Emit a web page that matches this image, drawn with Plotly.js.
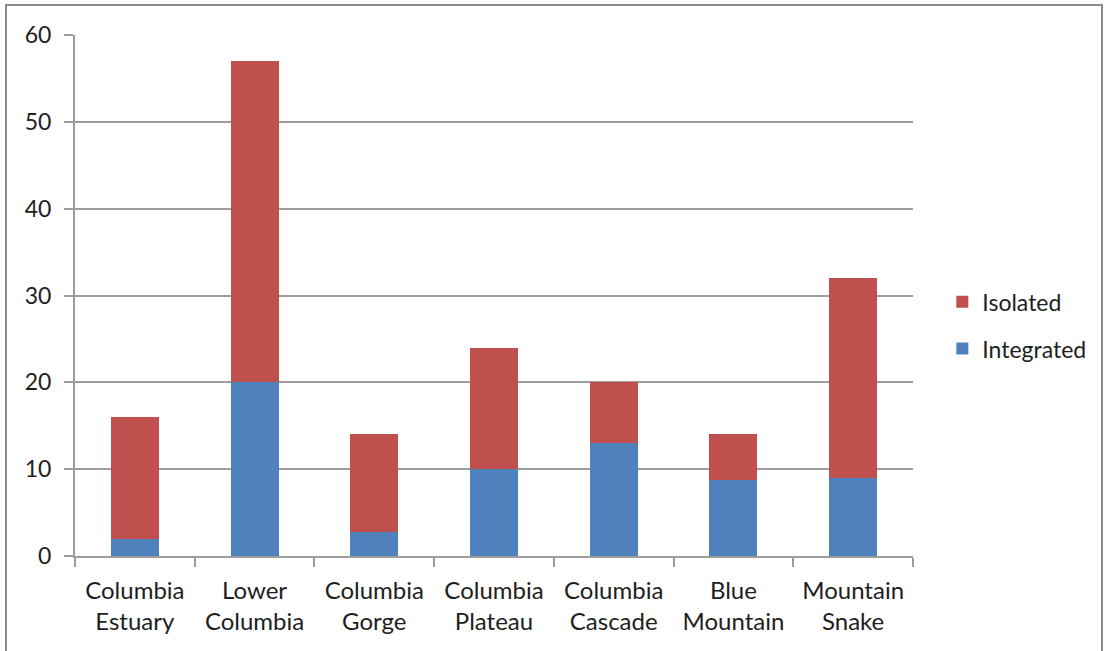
<!DOCTYPE html>
<html>
<head>
<meta charset="utf-8">
<script src="https://cdn.plot.ly/plotly-3.0.1.min.js"></script>
<style>
html,body{margin:0;padding:0;background:#fff;overflow:hidden;}
#chart{width:1107px;height:651px;position:absolute;left:0;top:0;}
#frame{position:absolute;left:5px;top:4px;width:1098px;height:660px;border:2px solid #8c8c8c;pointer-events:none;box-sizing:border-box;}
</style>
</head>
<body>
<div id="chart"></div>
<div id="frame"></div>
<script>
const categories = ["Columbia<br>Estuary","Lower<br>Columbia","Columbia<br>Gorge","Columbia<br>Plateau","Columbia<br>Cascade","Blue<br>Mountain","Mountain<br>Snake"];
const integrated = [2, 20, 2.8, 10, 13, 8.8, 9];
const isolated = [14, 37, 11.2, 14, 7, 5.2, 23];
const yTicks = [0,10,20,30,40,50,60];

const fam = "Lato, Open Sans, sans-serif";
const txt = "#1e1e1e";

const data = [
  {type:"bar", name:"Integrated", x:categories, y:integrated, marker:{color:"#4f81bd"}, legendgroup:"b", legendrank:2},
  {type:"bar", name:"Isolated", x:categories, y:isolated, marker:{color:"#c0504d"}, legendgroup:"a", legendrank:1}
];

const layout = {
  width:1107, height:651,
  margin:{l:75, r:194, t:35, b:95},
  barmode:"stack",
  bargap:0.6,
  paper_bgcolor:"rgba(0,0,0,0)",
  plot_bgcolor:"#fff",
  font:{family:fam, color:txt, size:23},
  showlegend:true,
  legend:{x:1.035, y:0.443, xanchor:"left", yanchor:"middle", traceorder:"grouped", tracegroupgap:14, font:{family:fam, size:23, color:txt}, itemwidth:30},
  xaxis:{
    type:"category",
    showgrid:false,
    showline:true, linecolor:"#9d9d9d", linewidth:2,
    ticks:"outside", tickson:"boundaries", ticklen:9, tickcolor:"#9d9d9d", tickwidth:2,
    tickfont:{family:fam, size:24, color:txt},
    ticklabelstandoff:12,
    fixedrange:true
  },
  yaxis:{
    range:[0,60],
    tickvals:yTicks,
    ticktext:yTicks.map(String),
    showgrid:true, gridcolor:"#9d9d9d", gridwidth:2,
    showline:true, linecolor:"#9d9d9d", linewidth:2,
    ticks:"outside", ticklen:9, tickcolor:"#9d9d9d", tickwidth:2,
    tickfont:{family:fam, size:23, color:txt},
    ticklabelstandoff:8,
    zeroline:false
  }
};

Plotly.newPlot("chart", data, layout, {displayModeBar:false, staticPlot:true});
</script>
</body>
</html>
